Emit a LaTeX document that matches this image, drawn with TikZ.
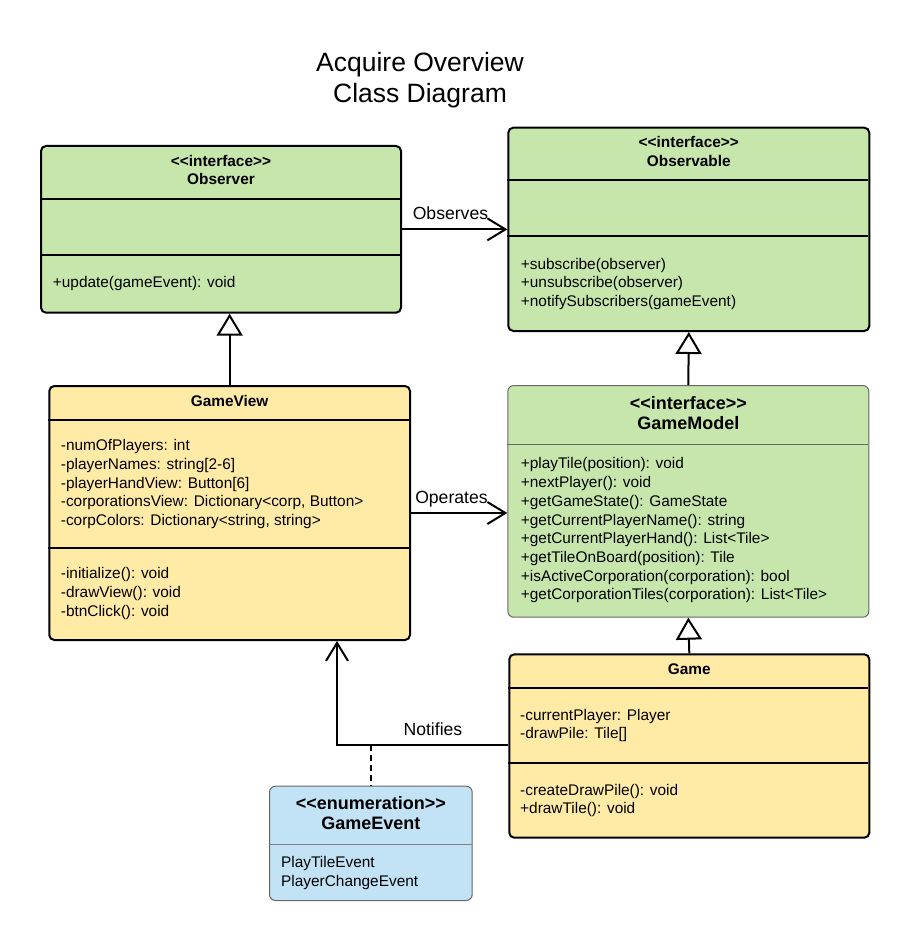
\documentclass[tikz,border=0pt]{standalone}
\usepackage{fontspec}
\setmainfont{Liberation Sans}[Ligatures=TeXOff]
\usetikzlibrary{arrows.meta}
\definecolor{ifgreen}{HTML}{C7E6AC}
\definecolor{clsyellow}{HTML}{FFEAA6}
\definecolor{enumblue}{HTML}{C2E2F5}
\begin{document}
\begin{tikzpicture}[x=1pt, y=-1pt,
  box/.style = {draw, line width=2pt, rounded corners=5pt, inner sep=0pt, anchor=north west},
  thinbox/.style = {draw=black!60, line width=1pt, rounded corners=6pt, inner sep=0pt, anchor=north west},
  head/.style = {font=\fontsize{15.4}{18.4}\selectfont\bfseries, align=center, anchor=base, inner sep=0pt},
  bighead/.style = {font=\fontsize{18}{20.6}\selectfont\bfseries, align=center, anchor=base, inner sep=0pt},
  member/.style = {font=\fontsize{15.4}{18.75}\selectfont, align=left, anchor=base west, inner sep=0pt},
  lbl/.style = {font=\fontsize{17.6}{20}\selectfont, anchor=base, inner sep=0pt, yshift=10pt},
  inherit/.style = {line width=2pt, -{Triangle[open, length=22pt, width=26pt]}},
  assoc/.style = {line width=2pt, -{Straight Barb[length=18pt, width=22pt]}}]
\useasboundingbox (0,0) rectangle (909,941);

% texts with several lines sit on the baseline of their last line
\node[font=\fontsize{26.5}{31}\selectfont, align=center, anchor=base] (title) at (420,102.5) {Acquire Overview\\Class Diagram};

% class boxes
\node[box, fill=ifgreen, minimum width=360pt, minimum height=166.7pt] (observer) at (40,145) {};
\node[box, fill=ifgreen, minimum width=361pt, minimum height=203.3pt] (observable) at (507.3,126.7) {};
\node[box, fill=clsyellow, minimum width=360.7pt, minimum height=254pt] (gameview) at (48.3,385) {};
\node[thinbox, fill=ifgreen, minimum width=361pt, minimum height=231.7pt] (gamemodel) at (507.3,385) {};
\node[box, fill=clsyellow, minimum width=360pt, minimum height=183.4pt] (game) at (508.3,653.3) {};
\node[thinbox, fill=enumblue, minimum width=202.7pt, minimum height=114.3pt] (gameevent) at (269,785.7) {};

% compartments
\draw[line width=2pt] (40,199) -- (400,199);
\draw[line width=2pt] (40,255) -- (400,255);
\draw[line width=2pt] (507.3,180) -- (868.3,180);
\draw[line width=2pt] (507.3,236) -- (868.3,236);
\draw[line width=2pt] (48.3,420) -- (409,420);
\draw[line width=2pt] (48.3,548.3) -- (409,548.3);
\draw[draw=black!60, line width=1pt] (507.3,444.3) -- (868.3,444.3);
\draw[line width=2pt] (508.3,688.3) -- (868.3,688.3);
\draw[line width=2pt] (508.3,763.3) -- (868.3,763.3);
\draw[draw=black!50, line width=1pt] (269,844.3) -- (471.7,844.3);

% Observer
\node[head] (observername) at (observer.north |- 0,184.8) {<<interface>>\\Observer};
\node[member] (observerops) at (52.7,287.2) {+update(gameEvent): void};

% Observable
\node[head] (observablename) at (observable.north |- 0,166.2) {<<interface>>\\Observable};
\node[member] (observableops) at (520.7,306.5) {+subscribe(observer)\\+unsubscribe(observer)\\+notifySubscribers(gameEvent)};

% GameView
\node[head] (gameviewname) at (gameview.north |- 0,406.2) {GameView};
\node[member] (gameviewattr) at (60.7,525.5) {-numOfPlayers: int\\-playerNames: string[2-6]\\-playerHandView: Button[6]\\-corporationsView: Dictionary<corp, Button>\\-corpColors: Dictionary<string, string>};
\node[member] (gameviewops) at (60.7,616.2) {-initialize(): void\\-drawView(): void\\-btnClick(): void};

% GameModel
\node[bighead] (gamemodelname) at (gamemodel.north |- 0,429.7) {<<interface>>\\GameModel};
\node[member, font=\fontsize{15.4}{18.7}\selectfont] (gamemodelops) at (520.7,599.8) {+playTile(position): void\\+nextPlayer(): void\\+getGameState(): GameState\\+getCurrentPlayerName(): string\\+getCurrentPlayerHand(): List<Tile>\\+getTileOnBoard(position): Tile\\+isActiveCorporation(corporation): bool\\+getCorporationTiles(corporation): List<Tile>};

% Game
\node[head] (gamename) at (game.north |- 0,674.5) {Game};
\node[member] (gameattr) at (520,738.8) {-currentPlayer: Player\\-drawPile: Tile[]};
\node[member] (gameops) at (520,813.8) {-createDrawPile(): void\\+drawTile(): void};

% GameEvent
\node[bighead] (gameeventname) at (gameevent.north |- 0,829.7) {<<enumeration>>\\GameEvent};
\node[member, font=\fontsize{15.4}{19}\selectfont] (gameeventvals) at (281,886.2) {PlayTileEvent\\PlayerChangeEvent};

% relations
\draw[assoc] (observer.east) -- node[lbl, pos=0.46] {Observes} (observer.east -| observable.west);
\draw[inherit] (gameview.north) -- (gameview.north |- observer.south);
\draw[inherit] (gamemodel.north) -- (observable.south);
\draw[inherit] (game.north) -- (gamemodel.south);
\draw[assoc] (gameview.east) -- node[lbl, pos=0.42] {Operates} (gameview.east -| gamemodel.west);
\coordinate (notifybend) at (337,745);
\draw[assoc] (game.west |- notifybend) -- node[lbl, pos=0.44] {Notifies} (notifybend) -- (notifybend |- gameview.south);
\coordinate (eventlink) at (371,745);
\draw[line width=2pt, dash pattern=on 6pt off 4pt] (eventlink) -- (eventlink |- gameevent.north);
\end{tikzpicture}
\end{document}
